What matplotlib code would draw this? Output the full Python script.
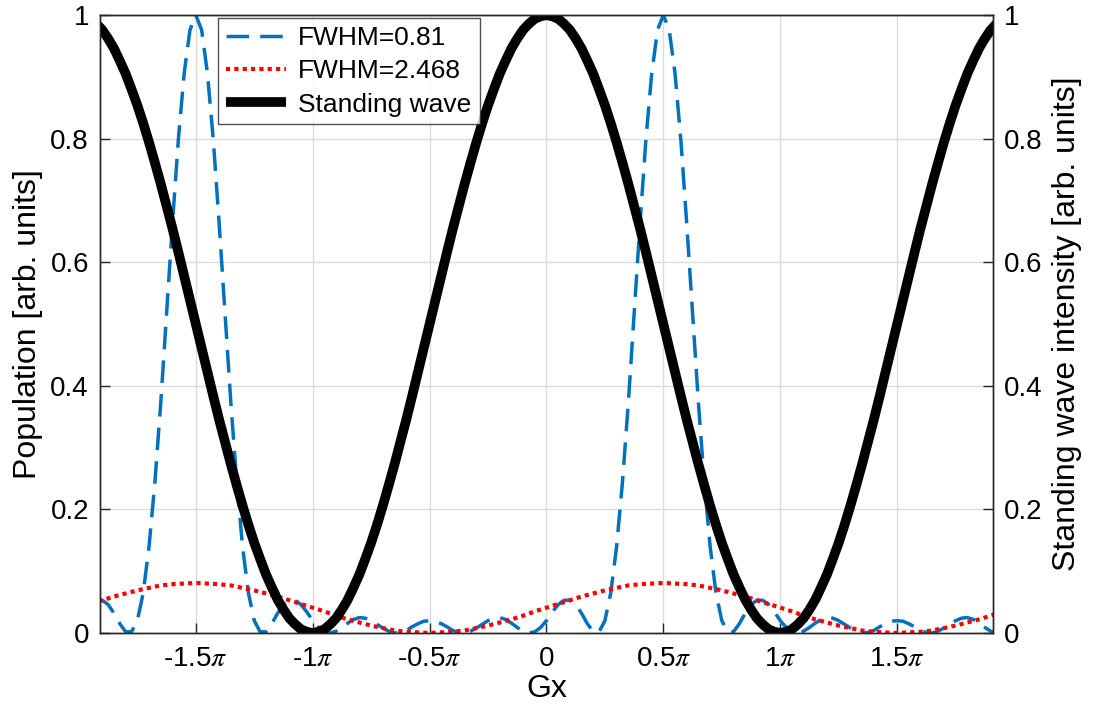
import matplotlib
matplotlib.use("Agg")
import matplotlib.pyplot as plt
import numpy as np

plt.rcParams["font.family"] = ["Liberation Sans", "DejaVu Sans"]
plt.rcParams["mathtext.fontset"] = "stix"

# x positions in units of pi (sampling grid of the read-off values)
fine_t = np.linspace(-1.925, 1.925, 155)
red_t = np.linspace(-1.95, 1.95, 79)

# FWHM=0.81 population
blue_y = [
    0.053, 0.053, 0.046, 0.032, 0.015, 0.002, 0.002, 0.020, 0.065, 0.140,
    0.244, 0.372, 0.516, 0.662, 0.797, 0.905, 0.976, 1.000,
    0.976, 0.905, 0.797, 0.662, 0.516, 0.372, 0.244, 0.140, 0.065, 0.020,
    0.002, 0.002, 0.015, 0.032, 0.046, 0.053, 0.053, 0.046, 0.034, 0.020,
    0.009, 0.002, 0.000, 0.003, 0.009, 0.016, 0.022, 0.025, 0.024, 0.020,
    0.014, 0.008, 0.003, 0.000, 0.001, 0.004, 0.010, 0.015, 0.019, 0.020,
    0.019, 0.015, 0.010, 0.004, 0.001, 0.000, 0.003, 0.008, 0.014, 0.020,
    0.024, 0.025, 0.022, 0.016, 0.009, 0.003, 0.000, 0.002, 0.009, 0.020,
    0.034, 0.046, 0.053, 0.053, 0.046, 0.032, 0.015, 0.002, 0.002, 0.020,
    0.065, 0.140, 0.244, 0.372, 0.516, 0.662, 0.797, 0.905, 0.976, 1.000,
    0.976, 0.905, 0.797, 0.662, 0.516, 0.372, 0.244, 0.140, 0.065, 0.020,
    0.002, 0.002, 0.015, 0.032, 0.046, 0.053, 0.053, 0.046, 0.034, 0.020,
    0.009, 0.002, 0.000, 0.003, 0.009, 0.016, 0.022, 0.025, 0.024, 0.020,
    0.014, 0.008, 0.003, 0.000, 0.001, 0.004, 0.010, 0.015, 0.019, 0.020,
    0.019, 0.015, 0.010, 0.004, 0.001, 0.000, 0.003, 0.008, 0.014, 0.020,
    0.024, 0.025, 0.022, 0.016, 0.009, 0.003, 0.000,
]

# FWHM=2.468 population
red_y = [
    0.047, 0.053, 0.059, 0.064, 0.069, 0.073, 0.077, 0.079, 0.080, 0.081,
    0.080, 0.079, 0.077, 0.073, 0.069, 0.064, 0.059, 0.053, 0.047, 0.041,
    0.035, 0.028, 0.022, 0.017, 0.012, 0.008, 0.004, 0.002, 0.001, 0.000,
    0.001, 0.002, 0.004, 0.008, 0.012, 0.017, 0.022, 0.028, 0.035, 0.041,
    0.047, 0.053, 0.059, 0.064, 0.069, 0.073, 0.077, 0.079, 0.080, 0.081,
    0.080, 0.079, 0.077, 0.073, 0.069, 0.064, 0.059, 0.053, 0.047, 0.041,
    0.035, 0.028, 0.022, 0.017, 0.012, 0.008, 0.004, 0.002, 0.001, 0.000,
    0.001, 0.002, 0.004, 0.008, 0.012, 0.017, 0.022, 0.028, 0.035,
]

# standing wave intensity
wave_y = [
    0.986, 0.976, 0.962, 0.946, 0.926, 0.905, 0.880, 0.854, 0.825, 0.794,
    0.761, 0.727, 0.691, 0.655, 0.617, 0.578, 0.539, 0.500, 0.461, 0.422,
    0.383, 0.345, 0.309, 0.273, 0.239, 0.206, 0.175, 0.146, 0.120, 0.095,
    0.074, 0.054, 0.038, 0.024, 0.014, 0.006, 0.002, 0.000,
    0.002, 0.006, 0.014, 0.024, 0.038, 0.054, 0.074, 0.095, 0.120, 0.146,
    0.175, 0.206, 0.239, 0.273, 0.309, 0.345, 0.383, 0.422, 0.461, 0.500,
    0.539, 0.578, 0.617, 0.655, 0.691, 0.727, 0.761, 0.794, 0.825, 0.854,
    0.880, 0.905, 0.926, 0.946, 0.962, 0.976, 0.986, 0.994, 0.998, 1.000,
    0.998, 0.994, 0.986, 0.976, 0.962, 0.946, 0.926, 0.905, 0.880, 0.854,
    0.825, 0.794, 0.761, 0.727, 0.691, 0.655, 0.617, 0.578, 0.539, 0.500,
    0.461, 0.422, 0.383, 0.345, 0.309, 0.273, 0.239, 0.206, 0.175, 0.146,
    0.120, 0.095, 0.074, 0.054, 0.038, 0.024, 0.014, 0.006, 0.002, 0.000,
    0.002, 0.006, 0.014, 0.024, 0.038, 0.054, 0.074, 0.095, 0.120, 0.146,
    0.175, 0.206, 0.239, 0.273, 0.309, 0.345, 0.383, 0.422, 0.461, 0.500,
    0.539, 0.578, 0.617, 0.655, 0.691, 0.727, 0.761, 0.794, 0.825, 0.854,
    0.880, 0.905, 0.926, 0.946, 0.962, 0.976, 0.986,
]

xtick_pos = [-1.5, -1, -0.5, 0, 0.5, 1, 1.5]
xtick_labels = [r"-1.5$\pi$", r"-1$\pi$", r"-0.5$\pi$", "0", r"0.5$\pi$", r"1$\pi$", r"1.5$\pi$"]
ytick_pos = [0, 0.2, 0.4, 0.6, 0.8, 1]
ytick_labels = ["0", "0.2", "0.4", "0.6", "0.8", "1"]

fig = plt.figure(figsize=(11, 7.19), dpi=100)
ax = fig.add_axes([0.0909, 0.1196, 0.9027 - 0.0909, 0.979 - 0.1196])
ax2 = ax.twinx()

fs = 20
l1, = ax.plot(fine_t * np.pi, blue_y, color="#0072BD", lw=2.5, dashes=(6.5, 3.2),
              label="FWHM=0.81")
l2, = ax.plot(red_t * np.pi, red_y, color="red", lw=3, dashes=(1, 1),
              label="FWHM=2.468")
l3, = ax2.plot(fine_t * np.pi, wave_y, color="black", lw=7, solid_capstyle="butt",
               solid_joinstyle="round", label="Standing wave")

for a in (ax, ax2):
    a.set_xlim(-6, 6)
    a.set_ylim(0, 1)
    a.tick_params(direction="in", length=7, width=1, labelsize=fs, colors="#262626",
                  labelcolor="black")
    for s in a.spines.values():
        s.set_color("#262626")
        s.set_linewidth(1)

ax.set_xticks(np.array(xtick_pos) * np.pi)
ax.set_xticklabels(xtick_labels)
ax.set_yticks(ytick_pos)
ax.set_yticklabels(ytick_labels)
ax2.set_yticks(ytick_pos)
ax2.set_yticklabels(ytick_labels)
ax.tick_params(axis="x", pad=9)
ax.tick_params(axis="y", pad=8)
ax2.tick_params(axis="y", pad=8)

ax.grid(True, color="#dcdcdc", lw=1)
ax.set_axisbelow(True)

ax.set_xlabel("Gx", fontsize=23, labelpad=2)
ax.set_ylabel("Population [arb. units]", fontsize=23, labelpad=5)
ax2.set_ylabel("Standing wave intensity [arb. units]", fontsize=23, labelpad=7)

leg = ax2.legend(handles=[l1, l2, l3], loc="upper left", bbox_to_anchor=(0.132, 0.995),
                 fontsize=19, frameon=True, fancybox=False, edgecolor="#262626",
                 handlelength=2.3, handletextpad=0.45, borderpad=0.3, labelspacing=0.35,
                 borderaxespad=0)
leg.get_frame().set_linewidth(1)

fig.savefig("out.png", dpi=100)
